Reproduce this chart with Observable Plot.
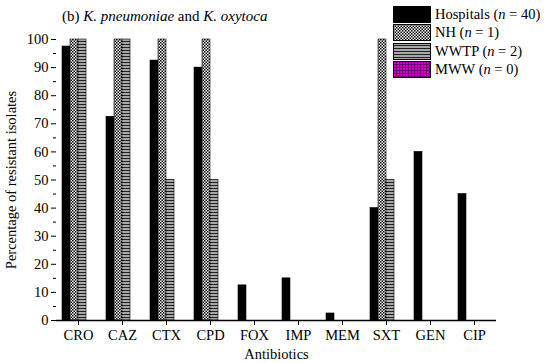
<!DOCTYPE html>
<html><head><meta charset="utf-8">
<script src="https://cdn.jsdelivr.net/npm/d3@7"></script>
<script src="https://cdn.jsdelivr.net/npm/@observablehq/plot@0.6"></script>
<style>
body{margin:0;background:#fff;font-family:"Liberation Serif",serif;color:#000}
#wrap{position:relative;width:550px;height:363px}
#title{position:absolute;left:62px;top:8px;font-size:15px;white-space:nowrap}
#legend{position:absolute;left:393px;top:5px;font-size:14.5px;background:#fff}
.row{display:flex;align-items:center;height:18.5px}
.row svg{margin-right:4px;display:block}
</style></head>
<body>
<div id="wrap">
  <div id="chart"></div>
  <div id="title">(b) <i>K. pneumoniae</i> and <i>K. oxytoca</i></div>
  <div id="legend"></div>
</div>
<script>
const antibiotics = ["CRO","CAZ","CTX","CPD","FOX","IMP","MEM","SXT","GEN","CIP"];
const seriesNames = ["Hospitals","NH","WWTP","MWW"];
const sampleSizes = [40, 1, 2, 0];
const hospitals = [97.5, 72.5, 92.5, 90, 12.5, 15, 2.5, 40, 60, 45];
const nh        = [100, 100, 100, 100, 0, 0, 0, 100, 0, 0];
const wwtp      = [100, 100, 50, 50, 0, 0, 0, 50, 0, 0];
const mww       = [0, 0, 0, 0, 0, 0, 0, 0, 0, 0];
const yTicks = [0,10,20,30,40,50,60,70,80,90,100];

const seriesValues = [hospitals, nh, wwtp, mww];
const fills = ["black", "url(#pNH)", "url(#pWWTP)", "url(#pMWW)"];
const table = antibiotics.flatMap((drug, i) =>
  seriesNames.map((s, j) => ({drug, series: s, value: seriesValues[j][i]})));

const chart = Plot.plot({
  width: 550, height: 363,
  marginLeft: 56, marginRight: 54, marginTop: 39, marginBottom: 43,
  style: {fontFamily: "Liberation Serif", fontSize: "14.5px", color: "black", background: "white"},
  fx: {domain: antibiotics, padding: 0, label: null},
  x: {domain: seriesNames, paddingInner: 0, paddingOuter: 0.45, axis: null},
  y: {domain: [0, 100], label: null},
  color: {domain: seriesNames, range: fills},
  marks: [
    Plot.barY(table.filter(d => d.value > 0), {fx: "drug", x: "series", y: "value", fill: "series", stroke: "black", strokeWidth: 0.6}),
    Plot.ruleY([0], {stroke: "black", strokeWidth: 1.3}),
    Plot.axisFx({anchor: "bottom", tickSize: 5, tickPadding: 4, label: "Antibiotics", labelAnchor: "center", labelArrow: "none", labelOffset: 38}),
    Plot.axisY({ticks: yTicks, tickSize: 5, tickPadding: 3, line: true, label: "Percentage of resistant isolates", labelAnchor: "center", labelArrow: "none", labelOffset: 51}),
    Plot.axisY({ticks: yTicks.slice(0, -1).map(v => v + 5), tickSize: 3, tickFormat: () => "", label: null})
  ]
});

const defs = d3.select(chart).insert("defs", ":first-child");
const pNH = defs.append("pattern").attr("id", "pNH").attr("width", 3).attr("height", 3).attr("patternUnits", "userSpaceOnUse");
pNH.append("rect").attr("width", 3).attr("height", 3).attr("fill", "white");
pNH.append("rect").attr("width", 1.5).attr("height", 1.5).attr("fill", "black");
pNH.append("rect").attr("x", 1.5).attr("y", 1.5).attr("width", 1.5).attr("height", 1.5).attr("fill", "black");
const pW = defs.append("pattern").attr("id", "pWWTP").attr("width", 4).attr("height", 3).attr("patternUnits", "userSpaceOnUse");
pW.append("rect").attr("width", 4).attr("height", 3).attr("fill", "#a8a8a8");
pW.append("rect").attr("y", 2).attr("width", 4).attr("height", 1).attr("fill", "#202020");
const pM = defs.append("pattern").attr("id", "pMWW").attr("width", 3).attr("height", 3).attr("patternUnits", "userSpaceOnUse");
pM.append("rect").attr("width", 3).attr("height", 3).attr("fill", "#d000d0");
pM.append("rect").attr("width", 1).attr("height", 3).attr("fill", "#700070");
pM.append("rect").attr("width", 3).attr("height", 1).attr("fill", "#700070");

document.getElementById("chart").append(chart);

const legend = d3.select("#legend");
seriesNames.forEach((s, j) => {
  const row = legend.append("div").attr("class", "row");
  const sw = row.append("svg").attr("width", 38).attr("height", 17);
  sw.append("rect").attr("x", 0.5).attr("y", 0.5).attr("width", 37).attr("height", 16)
    .attr("fill", fills[j]).attr("stroke", "black").attr("stroke-width", 1);
  row.append("span").html(`${s} (<i>n</i> = ${sampleSizes[j]})`);
});
</script>
</body></html>
